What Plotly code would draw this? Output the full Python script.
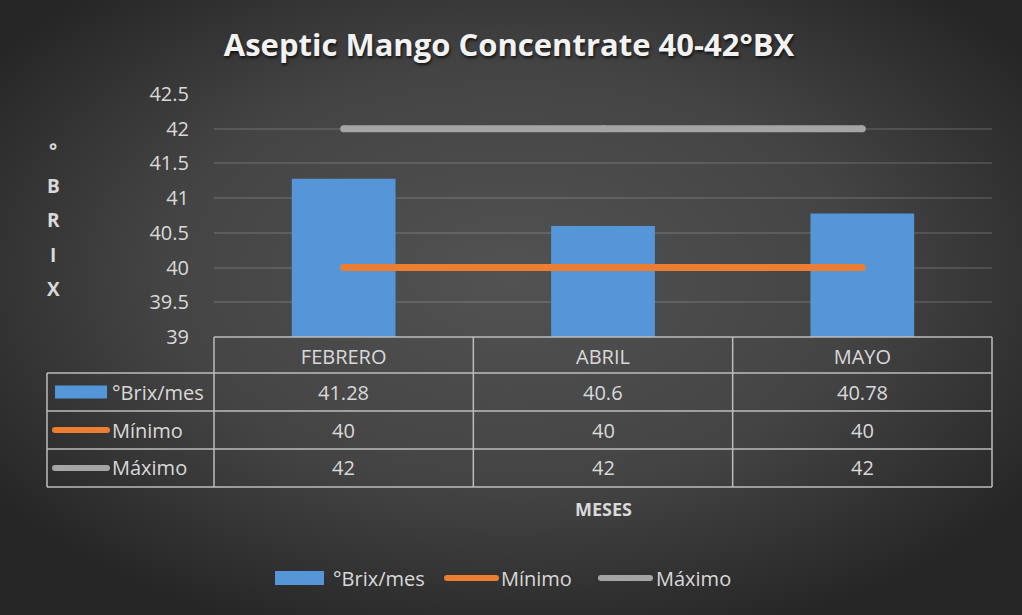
import base64
import plotly.graph_objects as go

# ---- data ----
meses = ["FEBRERO", "ABRIL", "MAYO"]
series_names = ["°Brix/mes", "Mínimo", "Máximo"]
brix_mes = [41.28, 40.6, 40.78]
minimo = [40, 40, 40]
maximo = [42, 42, 42]
y_ticks = [39, 39.5, 40, 40.5, 41, 41.5, 42, 42.5]

W_PX, H_PX = 1022, 615
L, R, T, B = 214, 992, 94, 337          # plot area edges in pixels
PW, PH = R - L, B - T

BLUE = "#5596d8"
ORANGE = "#ed7d31"
GREY = "#a5a5a5"
TXT = "#d9d9d9"
GRID_LINE = "#bdbdbd"
FONT = "'Open Sans', Lato, sans-serif"
FS = 20


def px(x):
    return (x - L) / PW


def py(y):
    return (B - y) / PH


x_idx = list(range(len(meses)))

fig = go.Figure()
fig.add_trace(go.Bar(x=x_idx, y=brix_mes, name=series_names[0],
                     marker=dict(color=BLUE, line=dict(width=0)),
                     width=0.4, showlegend=False))
fig.add_trace(go.Scatter(x=x_idx, y=minimo, name=series_names[1], mode="lines+markers",
                         line=dict(color=ORANGE, width=7),
                         marker=dict(color=ORANGE, size=7, line=dict(width=0)),
                         showlegend=False))
fig.add_trace(go.Scatter(x=x_idx, y=maximo, name=series_names[2], mode="lines+markers",
                         line=dict(color=GREY, width=7),
                         marker=dict(color=GREY, size=7, line=dict(width=0)),
                         showlegend=False))

# background: soft radial gradient
svg = (
    f"<svg xmlns='http://www.w3.org/2000/svg' width='{W_PX}' height='{H_PX}'>"
    "<defs><radialGradient id='g' cx='50%' cy='45%' r='62%'>"
    "<stop offset='0' stop-color='#525252'/>"
    "<stop offset='0.55' stop-color='#444444'/>"
    "<stop offset='1' stop-color='#262626'/>"
    "</radialGradient></defs>"
    "<rect width='100%' height='100%' fill='url(#g)'/></svg>"
)
bg_src = "data:image/svg+xml;base64," + base64.b64encode(svg.encode()).decode()

shapes = []
annotations = []

# data table grid
row_edges = [337, 373, 411, 449, 487]
left_x = 47
line_style = dict(color=GRID_LINE, width=1.5)
shapes.append(dict(type="line", xref="paper", yref="paper",
                   x0=0, x1=1, y0=py(row_edges[0]), y1=py(row_edges[0]), line=line_style))
for ye in row_edges[1:]:
    shapes.append(dict(type="line", xref="paper", yref="paper",
                       x0=px(left_x), x1=1, y0=py(ye), y1=py(ye), line=line_style))
for i in range(len(meses) + 1):
    xp = i / len(meses)
    shapes.append(dict(type="line", xref="paper", yref="paper",
                       x0=xp, x1=xp, y0=py(row_edges[0]), y1=py(row_edges[-1]), line=line_style))
shapes.append(dict(type="line", xref="paper", yref="paper",
                   x0=px(left_x), x1=px(left_x), y0=py(row_edges[1]), y1=py(row_edges[-1]),
                   line=line_style))


def key_line(x0, x1, yc, col):
    # a thick key line with rounded ends
    shapes.append(dict(type="line", xref="paper", yref="paper",
                       x0=px(x0), x1=px(x1), y0=py(yc), y1=py(yc),
                       line=dict(color=col, width=6)))
    for xe in (x0, x1):
        shapes.append(dict(type="circle", xref="paper", yref="paper",
                           x0=px(xe - 3), x1=px(xe + 3), y0=py(yc - 3), y1=py(yc + 3),
                           fillcolor=col, line=dict(width=0)))


# table rows: key + name + values
table_rows = [brix_mes, minimo, maximo]
keys = [("bar", BLUE), ("line", ORANGE), ("line", GREY)]
for r, (vals, name, (kind, col)) in enumerate(zip(table_rows, series_names, keys)):
    yc = (row_edges[r + 1] + row_edges[r + 2]) / 2
    if kind == "bar":
        shapes.append(dict(type="rect", xref="paper", yref="paper",
                           x0=px(55), x1=px(107), y0=py(yc - 6.5), y1=py(yc + 6.5),
                           fillcolor=BLUE, line=dict(width=0)))
    else:
        key_line(55, 107, yc, col)
    annotations.append(dict(xref="paper", yref="paper", x=px(110), y=py(yc),
                            xanchor="left", yanchor="middle", text=name, showarrow=False,
                            font=dict(family=FONT, size=FS, color=TXT)))
    for xi, v in zip(x_idx, vals):
        annotations.append(dict(xref="x", yref="paper", x=xi, y=py(yc),
                                xanchor="center", yanchor="middle", text=f"{v:g}",
                                showarrow=False, font=dict(family=FONT, size=FS, color=TXT)))

# axis titles
annotations.append(dict(xref="paper", yref="paper", x=px(603), y=py(509),
                        xanchor="center", yanchor="middle",
                        text="<b>MESES</b>", showarrow=False,
                        font=dict(family=FONT, size=18, color=TXT)))
for i, ch in enumerate("°BRIX"):
    annotations.append(dict(xref="paper", yref="paper", x=px(53), y=py(151 + 34.5 * i),
                            xanchor="center", yanchor="middle", text=f"<b>{ch}</b>",
                            showarrow=False, font=dict(family=FONT, size=19, color=TXT)))

# bottom legend
leg_y = 578
shapes.append(dict(type="rect", xref="paper", yref="paper",
                   x0=px(275), x1=px(324), y0=py(leg_y - 7), y1=py(leg_y + 7),
                   fillcolor=BLUE, line=dict(width=0)))
key_line(447, 496, leg_y, ORANGE)
key_line(601, 650, leg_y, GREY)
for name, xl in zip(series_names, [331, 499, 654]):
    annotations.append(dict(xref="paper", yref="paper", x=px(xl), y=py(leg_y),
                            xanchor="left", yanchor="middle", text=name, showarrow=False,
                            font=dict(family=FONT, size=FS, color=TXT)))

fig.update_layout(
    width=W_PX, height=H_PX,
    margin=dict(l=L, r=W_PX - R, t=T, b=H_PX - B),
    paper_bgcolor="#3a3a3a",
    plot_bgcolor="rgba(0,0,0,0)",
    title=dict(text="<b>Aseptic Mango Concentrate 40-42°BX</b>",
               x=509 / W_PX, xanchor="center",
               y=1 - 45 / H_PX, yanchor="middle", yref="container",
               font=dict(family=FONT, size=31, color="#f2f2f2",
                         shadow="1px 2px 3px rgba(0,0,0,0.7)")),
    images=[dict(source=bg_src, xref="paper", yref="paper",
                 x=-L / PW, y=1 + T / PH, sizex=W_PX / PW, sizey=H_PX / PH,
                 xanchor="left", yanchor="top", sizing="stretch", layer="below")],
    xaxis=dict(range=[-0.5, 2.5], tickvals=x_idx, ticktext=meses,
               showgrid=False, zeroline=False, showline=False,
               ticks="outside", ticklen=2, tickcolor="rgba(0,0,0,0)",
               tickfont=dict(family=FONT, size=FS, color=TXT)),
    yaxis=dict(range=[39, 42.5], tickvals=y_ticks,
               ticktext=[f"{v:g}" for v in y_ticks],
               showgrid=True, gridcolor="rgba(255,255,255,0.12)", gridwidth=1.5,
               zeroline=False, showline=False,
               ticks="outside", ticklen=20, tickcolor="rgba(0,0,0,0)",
               tickfont=dict(family=FONT, size=FS, color=TXT)),
    shapes=shapes,
    annotations=annotations,
    bargap=0.6,
)

fig.write_html("out.html")
